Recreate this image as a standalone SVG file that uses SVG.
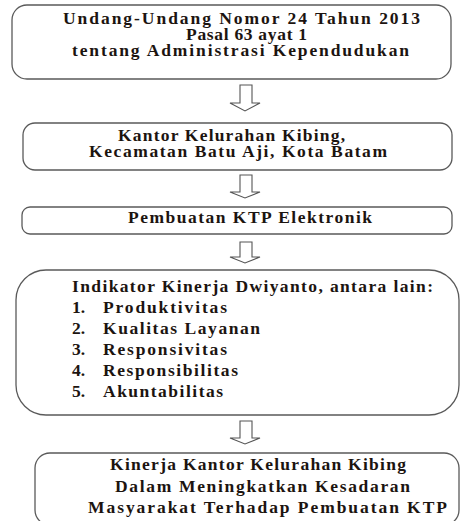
<svg xmlns="http://www.w3.org/2000/svg" width="461" height="521" viewBox="0 0 461 521">
<style>
.box{fill:#fff;stroke:#5a5a5a;stroke-width:1.3}
.arr{fill:#fff;stroke:#555;stroke-width:1.1;stroke-linejoin:miter}
text{font-family:"Liberation Serif","Tinos","Times New Roman",serif;font-size:17.5px;font-weight:bold;fill:#1c1410}
</style>
<rect width="461" height="521" fill="#fff"/>
<g id="connectors">
<path class="arr" d="M240,85 H252 V103 H260 L245,111 L230,103 H240 Z"/>
<path class="arr" d="M240,175 H252 V192 H260 L245,198 L230,192 H240 Z"/>
<path class="arr" d="M240,242 H252 V257 H260 L245,263 L230,257 H240 Z"/>
<path class="arr" d="M240,421 H252 V438 H260 L245,444 L230,438 H240 Z"/>
</g>
<g id="node1">
<rect class="box" x="12" y="5" width="439" height="74" rx="15"/>
<text x="63" y="23.5" textLength="357" lengthAdjust="spacing">Undang-Undang Nomor 24 Tahun 2013</text>
<text x="186" y="39.5" textLength="121" lengthAdjust="spacing">Pasal 63 ayat 1</text>
<text x="72" y="55.5" textLength="337" lengthAdjust="spacing">tentang Administrasi Kependudukan</text>
</g>
<g id="node2">
<rect class="box" x="23" y="123" width="429" height="47" rx="12"/>
<text x="118" y="140.5" textLength="227" lengthAdjust="spacing">Kantor Kelurahan Kibing,</text>
<text x="89" y="156.5" textLength="298" lengthAdjust="spacing">Kecamatan Batu Aji, Kota Batam</text>
</g>
<g id="node3">
<rect class="box" x="22" y="207" width="430" height="27" rx="8"/>
<text x="128" y="222.5" textLength="244" lengthAdjust="spacing">Pembuatan KTP Elektronik</text>
</g>
<g id="node4">
<rect class="box" x="16" y="270" width="443" height="145" rx="30"/>
<text x="72" y="292" textLength="361" lengthAdjust="spacing">Indikator Kinerja Dwiyanto, antara lain:</text>
<text x="72" y="313">1.</text><text x="103" y="313" textLength="124" lengthAdjust="spacing">Produktivitas</text>
<text x="72" y="334">2.</text><text x="103" y="334" textLength="157" lengthAdjust="spacing">Kualitas Layanan</text>
<text x="72" y="355">3.</text><text x="103" y="355" textLength="124" lengthAdjust="spacing">Responsivitas</text>
<text x="72" y="376">4.</text><text x="103" y="376" textLength="135" lengthAdjust="spacing">Responsibilitas</text>
<text x="72" y="397">5.</text><text x="103" y="397" textLength="120" lengthAdjust="spacing">Akuntabilitas</text>
</g>
<g id="node5">
<rect class="box" x="35" y="453" width="424" height="72" rx="15"/>
<text x="110" y="470" textLength="296" lengthAdjust="spacing">Kinerja Kantor Kelurahan Kibing</text>
<text x="115" y="492" textLength="295" lengthAdjust="spacing">Dalam Meningkatkan Kesadaran</text>
<text x="88" y="513" textLength="359" lengthAdjust="spacing">Masyarakat Terhadap Pembuatan KTP</text>
</g>
</svg>
